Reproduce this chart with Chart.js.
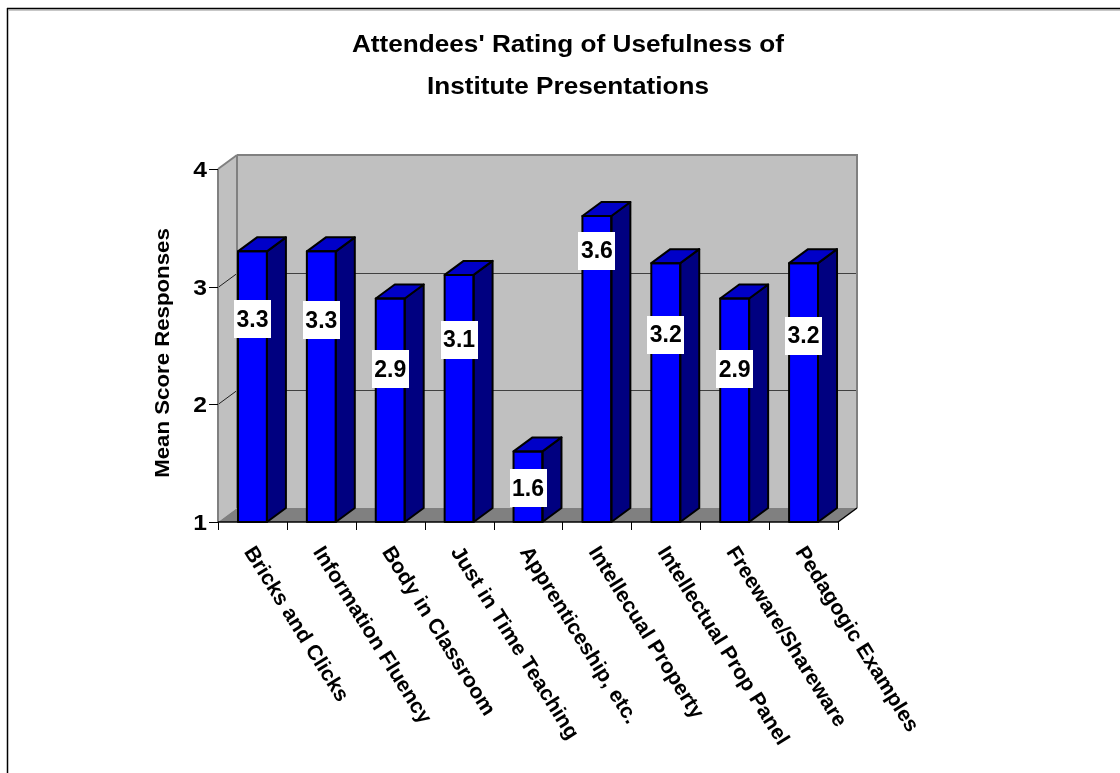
<!DOCTYPE html>
<html><head><meta charset="utf-8">
<script src="https://cdn.jsdelivr.net/npm/chart.js@4"></script>
<style>html,body{margin:0;padding:0;background:#fff;}canvas{display:block;}</style>
</head><body>
<canvas id="c" width="1120" height="773"></canvas>
<script>
// ---- data ----
const categories = ["Bricks and Clicks","Information Fluency","Body in Classroom","Just in Time Teaching","Apprenticeship, etc.","Intellecual Property","Intellectual Prop Panel","Freeware/Shareware","Pedagogic Examples"];
const meanScores = [3.3, 3.3, 2.9, 3.1, 1.6, 3.6, 3.2, 2.9, 3.2];
const yTicks = [1, 2, 3, 4];
const titleLines = ["Attendees' Rating of Usefulness of", "Institute Presentations"];
const yTitle = "Mean Score Responses";

// ---- style ----
const FONT = '"Liberation Sans", Arial, Helvetica, sans-serif';
const DX = 19, DY = -14;
const labelDrop = [68, 69, 71, 65, 37, 35, 72, 71, 73];

function poly(ctx, pts, fill, stroke, lw) {
  ctx.beginPath();
  ctx.moveTo(pts[0][0], pts[0][1]);
  for (let i = 1; i < pts.length; i++) ctx.lineTo(pts[i][0], pts[i][1]);
  ctx.closePath();
  if (fill) { ctx.fillStyle = fill; ctx.fill(); }
  if (stroke) { ctx.strokeStyle = stroke; ctx.lineWidth = lw; ctx.lineJoin = 'round'; ctx.stroke(); }
}
function line(ctx, x1, y1, x2, y2, color, lw) {
  ctx.beginPath(); ctx.moveTo(x1, y1); ctx.lineTo(x2, y2);
  ctx.strokeStyle = color; ctx.lineWidth = lw; ctx.stroke();
}

const threeD = {
  id: 'threeD',
  beforeDraw(chart) {
    const { ctx, chartArea: a, scales: { x, y } } = chart;
    ctx.save();
    ctx.fillStyle = '#fff'; ctx.fillRect(0, 0, chart.width, chart.height);
    // outer frame
    line(ctx, 7.5, chart.height + 5, 7.5, 8, '#000', 1.5);
    line(ctx, 7, 8.5, chart.width + 5, 8.5, '#000', 1.5);
    line(ctx, 9, 10, chart.width + 5, 10, '#909090', 1);

    const L = a.left, R = a.right;
    const T = y.getPixelForValue(yTicks[yTicks.length - 1]);
    const B = y.getPixelForValue(yTicks[0]);
    // back wall
    poly(ctx, [[L + DX, T + DY], [R + DX, T + DY], [R + DX, B + DY], [L + DX, B + DY]], '#C0C0C0');
    // left wall
    poly(ctx, [[L, T], [L + DX, T + DY], [L + DX, B + DY], [L, B]], '#C0C0C0');
    // floor
    poly(ctx, [[L, B], [L + DX, B + DY], [R + DX, B + DY], [R, B]], '#808080');
    // gridlines
    yTicks.slice(1, -1).forEach(v => {
      const py = Math.round(y.getPixelForValue(v)) + 0.5;
      line(ctx, L + DX, py + DY, R + DX, py + DY, '#404040', 1);
      line(ctx, L, py, L + DX, py + DY, '#202020', 1);
    });
    // wall edges
    line(ctx, L + DX, T + DY, R + DX + 1, T + DY, '#808080', 2);
    line(ctx, R + DX, T + DY, R + DX, B + DY, '#808080', 2);
    line(ctx, L, T, L + DX, T + DY, '#808080', 2);
    line(ctx, L + DX, T + DY, L + DX, B + DY, '#808080', 2);
    line(ctx, L, T, L, B, '#808080', 2);
    // floor front / right edges
    line(ctx, L, B, R, B, '#000', 1.5);
    line(ctx, R, B, R + DX, B + DY, '#000', 1.5);
    // y ticks
    yTicks.forEach(v => {
      const py = Math.round(y.getPixelForValue(v)) + 0.5;
      line(ctx, L - 9, py, L, py, '#000', 1);
    });
    // x ticks at category boundaries
    const cw = (R - L) / categories.length;
    for (let i = 0; i <= categories.length; i++) {
      const px = Math.round(L + i * cw) + 0.5;
      line(ctx, px, B, px, B + 8, '#000', 1);
    }
    ctx.restore();
  },
  afterDatasetsDraw(chart) {
    const { ctx } = chart;
    const meta = chart.getDatasetMeta(0);
    ctx.save();
    meta.data.forEach((el, i) => {
      const p = el.getProps(['x', 'y', 'base', 'width'], true);
      const l = p.x - p.width / 2, r = p.x + p.width / 2, t = p.y, b = p.base;
      // side
      poly(ctx, [[r, t], [r + DX, t + DY], [r + DX, b + DY], [r, b]], '#000080', '#000', 2);
      // top
      poly(ctx, [[l, t], [l + DX, t + DY], [r + DX, t + DY], [r, t]], '#0000C8', '#000', 2);
      // front outline
      poly(ctx, [[l, t], [r, t], [r, b], [l, b]], null, '#000', 2);
    });
    // value labels
    meta.data.forEach((el, i) => {
      const p = el.getProps(['x', 'y'], true);
      const cy = p.y + labelDrop[i];
      ctx.fillStyle = '#fff';
      ctx.fillRect(Math.round(p.x - 18.5), Math.round(cy - 19), 37, 38);
      ctx.fillStyle = '#000';
      ctx.font = 'bold 23px ' + FONT;
      ctx.textAlign = 'center';
      ctx.textBaseline = 'middle';
      ctx.fillText(meanScores[i].toFixed(1), p.x, cy + 1);
    });
    ctx.restore();
  },
  afterDraw(chart) {
    const { ctx, chartArea: a, scales: { x, y } } = chart;
    const L = a.left;
    const B = y.getPixelForValue(yTicks[0]);
    ctx.save();
    ctx.fillStyle = '#000';
    // y tick labels
    ctx.font = 'bold 22px ' + FONT;
    ctx.textAlign = 'right';
    ctx.textBaseline = 'middle';
    yTicks.forEach(v => {
      const py = y.getPixelForValue(v);
      ctx.save();
      ctx.translate(L - 11, py + 2);
      ctx.scale(1.12, 1);
      ctx.fillText(String(v), 0, 0);
      ctx.restore();
    });
    // category labels
    ctx.font = 'bold 21px ' + FONT;
    ctx.textAlign = 'left';
    ctx.textBaseline = 'top';
    categories.forEach((c, i) => {
      const px = x.getPixelForValue(i);
      ctx.save();
      ctx.translate(px + 5, B + 21);
      ctx.rotate(58 * Math.PI / 180);
      ctx.scale(1.02, 1);
      ctx.fillText(c, 0, 0);
      ctx.restore();
    });
    // y title
    ctx.save();
    ctx.font = 'bold 19.5px ' + FONT;
    ctx.textAlign = 'center';
    ctx.textBaseline = 'alphabetic';
    ctx.translate(169, 353);
    ctx.rotate(-Math.PI / 2);
    ctx.scale(1.14, 1);
    ctx.fillText(yTitle, 0, 0);
    ctx.restore();
    // title
    ctx.font = 'bold 24px ' + FONT;
    ctx.textAlign = 'center';
    ctx.textBaseline = 'alphabetic';
    const base = [52, 94];
    titleLines.forEach((t, i) => {
      ctx.save();
      ctx.translate(568, base[i]);
      ctx.scale(1.09, 1);
      ctx.fillText(t, 0, 0);
      ctx.restore();
    });
    ctx.restore();
  }
};

new Chart(document.getElementById('c'), {
  type: 'bar',
  data: {
    labels: categories,
    datasets: [{
      data: meanScores,
      base: yTicks[0],
      backgroundColor: '#0000FF',
      borderWidth: 0,
      barPercentage: 0.42,
      categoryPercentage: 1.0
    }]
  },
  options: {
    responsive: false,
    animation: false,
    devicePixelRatio: 1,
    layout: { padding: { left: 218, right: 282, top: 169, bottom: 251 } },
    plugins: { legend: { display: false }, title: { display: false }, tooltip: { enabled: false } },
    scales: {
      x: { display: false, offset: true, grid: { display: false } },
      y: { display: false, min: 1, max: 4, grid: { display: false } }
    }
  },
  plugins: [threeD]
});
</script>
</body></html>
